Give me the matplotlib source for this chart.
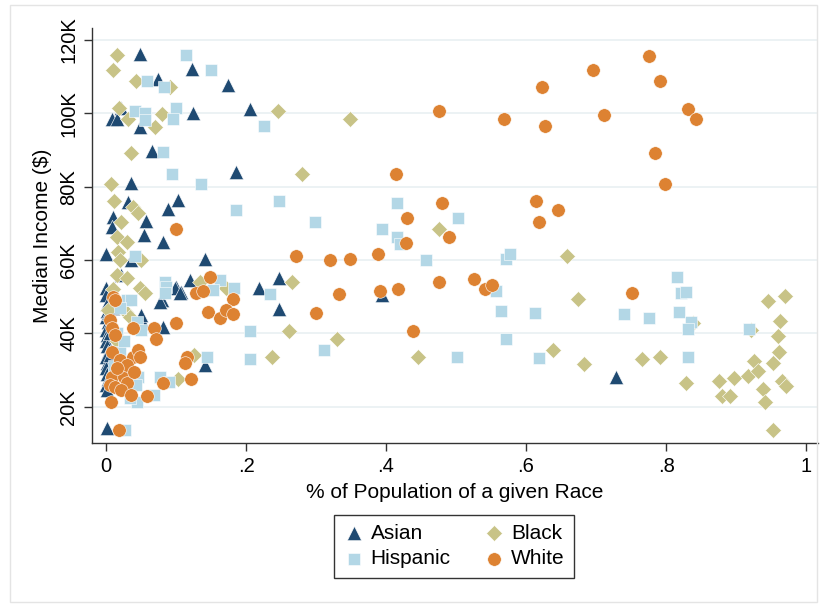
import matplotlib
matplotlib.use("Agg")
import matplotlib.pyplot as plt
import matplotlib.patches as mpatches
from matplotlib.ticker import FuncFormatter

plt.rcParams["font.family"] = ["Liberation Sans", "DejaVu Sans"]

# share of population (x) vs median income in $K (y)
asian_x = [0.049, 0.123, 0.074, 0.174, 0.206, 0.124, 0.022, 0.009, 0.016, 0.048,
           0.066, 0.185, 0.036, 0.032, 0.103, 0.089, 0.010, 0.057, 0.008, 0.054,
           0.082, 0.000, 0.035, 0.142, 0.022, 0.000, 0.100, 0.120, 0.247, 0.219,
           0.099, 0.107, 0.080, 0.077, 0.105, 0.247, 0.394, 0.053, 0.082, 0.141,
           0.001, 0.729, 0.050,
           0.000, 0.002, 0.001, 0.000, 0.003, 0.000, 0.002, 0.000, 0.001, 0.003,
           0.000, 0.002, 0.000, 0.001, 0.003, 0.000, 0.002, 0.005, 0.006, 0.004,
           0.010, 0.008]
asian_y = [116.2, 112.1, 109.3, 107.7, 101.1, 100.0, 101.4, 98.6, 98.6, 96.4,
           89.8, 84.1, 81.1, 75.9, 76.4, 73.9, 71.8, 70.6, 69.1, 66.8,
           65.0, 61.6, 60.0, 60.2, 55.9, 52.3, 52.7, 54.5, 55.0, 52.3,
           52.3, 51.4, 49.1, 48.6, 50.9, 46.6, 50.5, 42.7, 41.7, 31.4,
           14.1, 28.0, 45.0,
           50.5, 48.0, 46.0, 44.5, 43.0, 41.0, 39.5, 38.0, 36.5, 35.0,
           33.5, 32.0, 30.5, 29.0, 27.5, 26.0, 24.5, 40.0, 34.0, 45.5,
           47.0, 30.0]

black_x = [0.016, 0.010, 0.043, 0.091, 0.018, 0.031, 0.080, 0.070, 0.245, 0.349,
           0.035, 0.007, 0.280, 0.011, 0.039, 0.046, 0.022, 0.015, 0.030, 0.017,
           0.020, 0.050, 0.015, 0.030, 0.048, 0.134, 0.172, 0.265, 0.476, 0.262,
           0.330, 0.445, 0.237, 0.125, 0.103, 0.055, 0.029, 0.034, 0.003, 0.658,
           0.674, 0.638, 0.683, 0.765, 0.791, 0.829, 0.875, 0.880, 0.891, 0.897,
           0.917, 0.922, 0.926, 0.932, 0.938, 0.942, 0.945, 0.953, 0.953, 0.960,
           0.962, 0.963, 0.965, 0.970, 0.971, 0.838, 0.010, 0.020, 0.040, 0.015]
black_y = [115.9, 111.8, 108.9, 107.1, 101.4, 98.4, 99.8, 96.4, 100.7, 98.5,
           89.3, 80.7, 83.6, 76.1, 74.5, 72.8, 70.5, 66.4, 64.8, 62.3,
           60.0, 60.0, 55.9, 55.0, 52.3, 54.1, 52.3, 54.1, 68.5, 40.6,
           38.6, 33.5, 33.5, 34.1, 27.5, 50.9, 45.9, 44.5, 46.4, 61.1,
           49.3, 35.5, 31.6, 32.9, 33.5, 26.6, 27.1, 22.9, 22.9, 27.9,
           28.4, 40.9, 32.5, 29.8, 24.8, 21.2, 48.9, 31.8, 13.6, 39.3,
           34.8, 43.4, 27.1, 50.2, 25.6, 42.7, 52.0, 48.0, 42.0, 38.0]

hisp_x = [0.114, 0.150, 0.059, 0.083, 0.041, 0.055, 0.055, 0.100, 0.095, 0.226,
          0.081, 0.094, 0.136, 0.185, 0.247, 0.298, 0.415, 0.503, 0.394, 0.415,
          0.420, 0.457, 0.572, 0.577, 0.042, 0.084, 0.163, 0.153, 0.183, 0.234,
          0.086, 0.084, 0.030, 0.044, 0.206, 0.144, 0.205, 0.077, 0.090, 0.044,
          0.068, 0.044, 0.034, 0.027, 0.312, 0.501, 0.557, 0.564, 0.571, 0.613,
          0.619, 0.740, 0.775, 0.815, 0.821, 0.828, 0.818, 0.835, 0.832, 0.832,
          0.919, 0.036, 0.020, 0.050, 0.020, 0.022, 0.046, 0.043, 0.016, 0.025,
          0.012]
hisp_y = [115.9, 111.8, 108.9, 107.3, 100.7, 100.0, 98.2, 101.4, 98.6, 96.5,
          89.4, 83.6, 80.7, 73.6, 76.2, 70.3, 75.5, 71.5, 68.5, 66.4,
          64.5, 60.0, 60.2, 61.6, 61.2, 54.1, 54.5, 51.8, 52.3, 50.7,
          52.7, 50.9, 49.1, 43.2, 40.6, 33.6, 32.9, 28.2, 26.8, 28.2,
          23.2, 21.4, 22.3, 13.6, 35.6, 33.5, 51.6, 46.2, 38.6, 45.5,
          33.4, 45.3, 44.3, 55.5, 50.9, 51.2, 45.7, 43.2, 41.2, 33.6,
          41.2, 49.1, 47.0, 40.9, 35.0, 32.3, 28.2, 25.9, 40.0, 38.0,
          31.0]

white_x = [0.100, 0.148, 0.128, 0.138, 0.182, 0.145, 0.163, 0.171, 0.181, 0.010,
           0.013, 0.006, 0.008, 0.013, 0.038, 0.068, 0.071, 0.100, 0.008, 0.020,
           0.025, 0.039, 0.046, 0.049, 0.115, 0.113, 0.008, 0.006, 0.013, 0.025,
           0.030, 0.022, 0.035, 0.059, 0.081, 0.122, 0.007, 0.019, 0.030, 0.040,
           0.015,
           0.475, 0.568, 0.414, 0.480, 0.430, 0.490, 0.429, 0.271, 0.320, 0.348,
           0.388, 0.333, 0.391, 0.417, 0.476, 0.525, 0.541, 0.551, 0.300, 0.439,
           0.776, 0.695, 0.623, 0.791, 0.832, 0.843, 0.711, 0.627, 0.784, 0.798,
           0.614, 0.645, 0.618, 0.752]
white_y = [68.6, 55.5, 50.9, 51.5, 49.3, 45.9, 44.3, 46.4, 45.2, 50.0,
           49.1, 43.6, 41.4, 39.5, 41.4, 41.4, 38.6, 42.9, 35.0, 32.7,
           30.0, 33.6, 35.5, 33.6, 33.6, 31.8, 28.2, 25.9, 25.5, 28.2,
           26.6, 24.5, 23.2, 22.9, 26.6, 27.5, 21.4, 13.6, 31.5, 29.5,
           30.5,
           100.7, 98.5, 83.6, 75.5, 71.4, 66.4, 64.7, 61.1, 60.0, 60.2,
           61.6, 50.7, 51.6, 52.2, 54.1, 54.8, 52.0, 53.2, 45.5, 40.6,
           115.7, 111.8, 107.3, 108.9, 101.2, 98.5, 99.7, 96.5, 89.3, 80.7,
           76.1, 73.6, 70.3, 51.1]

x_ticks = [0, 0.2, 0.4, 0.6, 0.8, 1.0]
x_ticklabels = ["0", ".2", ".4", ".6", ".8", "1"]
y_ticks = [20, 40, 60, 80, 100, 120]

NAVY = "#1f4a72"
KHAKI = "#c8c387"
LIGHTBLUE = "#b3d7e6"
ORANGE = "#dd8232"

fig = plt.figure(figsize=(8.27, 6.04), dpi=100)
fig.patches.append(mpatches.Rectangle((10 / 827, 2 / 604), 807 / 827, 597 / 604,
                                      transform=fig.transFigure, fill=False,
                                      edgecolor="#e4e4e4", lw=1))

ax = fig.add_axes([92 / 827, 1 - 443 / 604, 726 / 827, 415 / 604])

kw = dict(linewidths=0.4, edgecolors="white", zorder=3)
h_asian = ax.scatter(asian_x, asian_y, marker="^", s=105, color=NAVY, label="Asian", **kw)
h_black = ax.scatter(black_x, black_y, marker="D", s=66, color=KHAKI, label="Black", **kw)
h_hisp = ax.scatter(hisp_x, hisp_y, marker="s", s=76, color=LIGHTBLUE, label="Hispanic", **kw)
h_white = ax.scatter(white_x, white_y, marker="o", s=95, color=ORANGE, label="White", **kw)

ax.set_xlim(-0.02, 1.017)
ax.set_ylim(10.1, 123.3)
ax.set_xticks(x_ticks)
ax.set_xticklabels(x_ticklabels)
ax.set_yticks(y_ticks)
ax.yaxis.set_major_formatter(FuncFormatter(lambda v, p: f"{int(v)}K"))
for lab in ax.get_yticklabels():
    lab.set_rotation(90)
    lab.set_va("center")

ax.tick_params(axis="both", direction="out", length=6, width=1, colors="#333333",
               labelcolor="black", labelsize=14.5, pad=4)
for side in ["top", "right"]:
    ax.spines[side].set_visible(False)
for side in ["left", "bottom"]:
    ax.spines[side].set_color("#333333")
    ax.spines[side].set_linewidth(1)

ax.yaxis.grid(True, color="#eaf1f3", lw=1.3, zorder=0)
ax.set_axisbelow(True)

ax.set_xlabel("% of Population of a given Race", fontsize=15, labelpad=5)
ax.set_ylabel("Median Income ($)", fontsize=15, labelpad=5)

leg = fig.legend(handles=[h_asian, h_hisp, h_black, h_white],
                 labels=["Asian", "Hispanic", "Black", "White"],
                 ncol=2, loc="center", bbox_to_anchor=(454 / 827, 1 - 546 / 604),
                 fontsize=15, frameon=True, fancybox=False, edgecolor="black",
                 handletextpad=0.3, columnspacing=1.6, borderpad=0.45,
                 labelspacing=0.3, handlelength=1.0)
leg.get_frame().set_linewidth(1)

fig.savefig("out.png", dpi=100)
